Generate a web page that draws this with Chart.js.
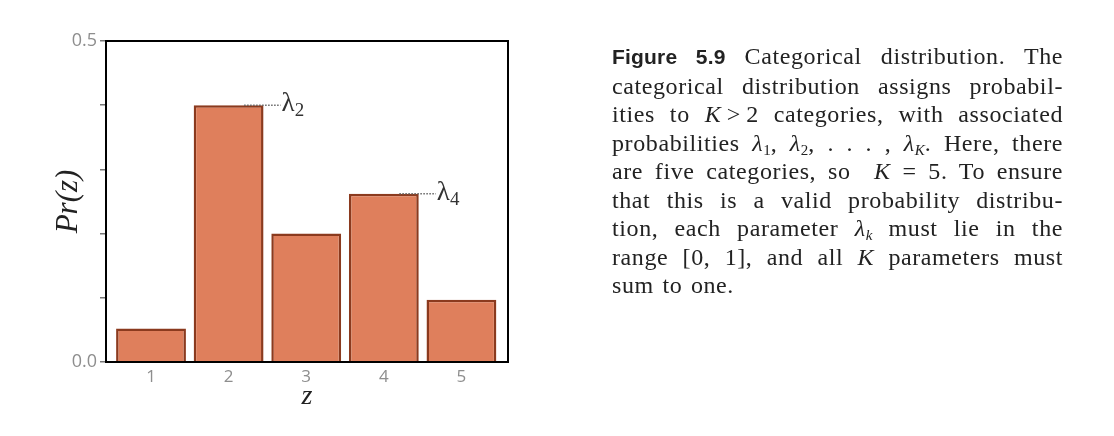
<!DOCTYPE html>
<html>
<head>
<meta charset="utf-8">
<script src="https://cdn.jsdelivr.net/npm/chart.js@4/dist/chart.umd.min.js"></script>
<style>
  html, body { margin: 0; padding: 0; background: #fff; }
  #wrap { position: relative; width: 1114px; height: 436px; }
  #caption {
    position: absolute; left: 612px; top: 42px; width: 451px;
    font-family: "Liberation Serif", serif; font-size: 24px; line-height: 28.5px; color: #222;
    letter-spacing: 0.6px; word-spacing: 2px;
  }
  #caption .ln { text-align: justify; text-align-last: justify; white-space: nowrap; }
  #caption .ln.last { text-align-last: left; }
  #caption b { font-family: "Liberation Sans", sans-serif; font-weight: bold; font-size: 21px; letter-spacing: 0.2px; }
  #caption i { font-style: italic; }
  #caption sub { font-size: 15px; line-height: 0; vertical-align: -4px; letter-spacing: 0; }
</style>
</head>
<body>
<div id="wrap">
  <canvas id="chart"></canvas>
  <div id="caption">
    <div class="ln"><b>Figure 5.9</b> Categorical distribution. The</div>
    <div class="ln">categorical distribution assigns probabil-</div>
    <div class="ln">ities to <i>K</i>&thinsp;&gt;&thinsp;2 categories, with associated</div>
    <div class="ln">probabilities <i>λ</i><sub>1</sub>, <i>λ</i><sub>2</sub>, . . . , <i>λ</i><sub><i>K</i></sub>. Here, there</div>
    <div class="ln">are five categories, so &nbsp;<i>K</i> = 5. To ensure</div>
    <div class="ln">that this is a valid probability distribu-</div>
    <div class="ln">tion, each parameter <i>λ</i><sub><i>k</i></sub> must lie in the</div>
    <div class="ln">range [0, 1], and all <i>K</i> parameters must</div>
    <div class="ln last">sum to one.</div>
  </div>
</div>
<script>
// categories and probabilities
const categories = [1, 2, 3, 4, 5];
const probs = [0.052, 0.40, 0.20, 0.262, 0.097];
const yTickLabels = { 0: '0.0', 0.5: '0.5' };
// bars that get a lambda label
const labelled = [2, 4];

const barFill = '#df7f5c';
const barEdge = '#8b3a1e';
const tickGray = '#8e8e8e';

const framePlugin = {
  id: 'frame',
  afterDatasetsDraw(chart) {
    const { ctx, chartArea: a, scales } = chart;
    ctx.save();
    // dotted leaders + lambda labels
    labelled.forEach(k => {
      const i = categories.indexOf(k);
      const y = scales.y.getPixelForValue(probs[i]);
      const x0 = scales.x.getPixelForValue(k + 0.2);
      const x1 = scales.x.getPixelForValue(k + 0.67);
      ctx.beginPath();
      ctx.setLineDash([1.5, 1.5]);
      ctx.strokeStyle = '#666';
      ctx.lineWidth = 1.5;
      ctx.moveTo(x0, y);
      ctx.lineTo(x1, y);
      ctx.stroke();
      ctx.setLineDash([]);
      ctx.fillStyle = '#333';
      ctx.textBaseline = 'middle';
      ctx.textAlign = 'left';
      ctx.font = '27px "Liberation Serif"';
      ctx.fillText('λ', x1 + 1, y - 1);
      const w = ctx.measureText('λ').width;
      ctx.font = '19px "Liberation Serif"';
      ctx.fillText(String(k), x1 + w + 1, y + 6);
    });
    // black frame round the plot
    ctx.strokeStyle = '#000';
    ctx.lineWidth = 2;
    ctx.strokeRect(a.left, a.top, a.right - a.left, a.bottom - a.top);
    ctx.restore();
  }
};

new Chart(document.getElementById('chart'), {
  type: 'bar',
  data: {
    datasets: [{
      data: categories.map((c, i) => ({ x: c, y: probs[i] })),
      backgroundColor: barFill,
      borderColor: barEdge,
      borderWidth: 2.5,
      barPercentage: 0.9,
      categoryPercentage: 1
    }]
  },
  options: {
    responsive: true,
    maintainAspectRatio: false,
    animation: false,
    layout: { padding: { left: 0, right: 606, top: 41, bottom: 0 } },
    plugins: { legend: { display: false }, tooltip: { enabled: false } },
    scales: {
      x: {
        type: 'linear',
        offset: false,
        min: 0.42,
        max: 5.6,
        afterBuildTicks: s => { s.ticks = categories.map(v => ({ value: v })); },
        afterFit: s => { s.height = 74; },
        grid: { display: false, drawTicks: false },
        border: { display: true, color: '#000', width: 2 },
        ticks: { color: tickGray, padding: 5, font: { family: 'Open Sans', size: 17 } },
        title: {
          display: true, text: 'z', color: '#222',
          font: { family: 'Liberation Serif', style: 'italic', size: 28 },
          padding: { top: 0, bottom: 23 }
        }
      },
      y: {
        min: 0,
        max: 0.5,
        afterFit: s => { s.width = 106; },
        grid: { drawOnChartArea: false, drawTicks: true, tickLength: 6, color: '#777', lineWidth: 1.5 },
        border: { display: true, color: '#000', width: 2 },
        ticks: {
          stepSize: 0.1,
          padding: 3,
          color: tickGray,
          font: { family: 'Open Sans', size: 18 },
          callback: v => yTickLabels[Math.round(v * 10) / 10] || ''
        },
        title: {
          display: true, text: 'Pr(z)', color: '#222',
          font: { family: 'Liberation Serif', style: 'italic', size: 31 },
          padding: { top: 50, bottom: 0 }
        }
      }
    }
  },
  plugins: [framePlugin]
});
</script>
</body>
</html>
